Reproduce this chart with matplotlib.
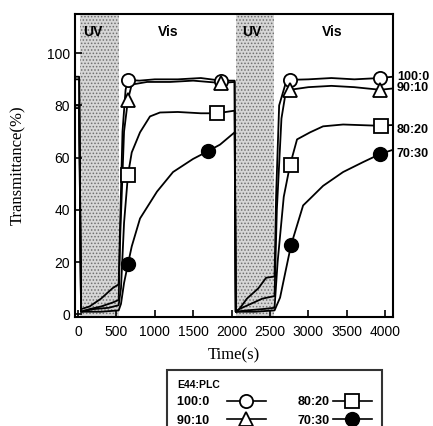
import numpy as np
import matplotlib.pyplot as plt
from matplotlib.lines import Line2D

# transmittance traces (time in s, transmittance in %)
t_100 = [-40, 15, 40, 150, 300, 450, 530, 545, 580, 620, 651, 800, 1000, 1300, 1600, 1863, 2040,
         2055, 2100, 2200, 2350, 2450, 2560, 2580, 2620, 2700, 2762, 3000, 3300, 3600, 3935, 4100]
v_100 = [91, 91, 2, 3, 6, 10, 11.5, 30, 70, 86, 89.8, 89.5, 90, 90, 90.5, 89.5, 89.5,
         1, 2, 6, 10, 14, 14.5, 45, 80, 88, 89.8, 90, 90.5, 90, 90.5, 91]

t_90 = [-40, 15, 40, 150, 300, 450, 530, 550, 600, 651, 700, 900, 1200, 1500, 1863, 2040,
        2055, 2100, 2250, 2400, 2560, 2590, 2650, 2700, 2762, 3000, 3300, 3600, 3935, 4100]
v_90 = [90, 90, 1, 2, 3, 4.5, 5.5, 30, 70, 82.2, 88, 89, 89, 89.5, 88.6, 89,
        1, 2, 4, 6, 7, 40, 75, 84, 86, 87, 87.5, 87, 86, 86.5]

t_80 = [-40, 15, 40, 200, 400, 530, 560, 600, 651, 700, 808, 938, 1068, 1300, 1600, 1811, 2040,
        2055, 2200, 2400, 2560, 2600, 2680, 2762, 2853, 3023, 3192, 3453, 3844, 3948, 4100]
v_80 = [80, 80, 1, 2, 2.5, 3.5, 10, 35, 53.4, 62, 69.7, 75.8, 77.3, 77.5, 77, 77, 78,
        1, 1.5, 2, 2.5, 20, 45, 57.2, 67, 69.7, 72, 72.7, 72.3, 72.3, 72.5]

t_70 = [-40, 15, 40, 300, 530, 560, 600, 651, 700, 808, 1029, 1238, 1498, 1694, 1850, 2040,
        2055, 2300, 2560, 2632, 2700, 2775, 2932, 3023, 3192, 3453, 3713, 3935, 4100]
v_70 = [79, 79, 1, 1, 1.5, 4, 12, 19.3, 26, 36.7, 47, 54.5, 59.5, 62.5, 65, 69.7,
        1, 1, 1.5, 6.4, 16, 26.5, 41.7, 44.3, 49.2, 54.5, 58.3, 61.4, 63]

# marker positions
mk_t_100 = [651, 1863, 2762, 3935]
mk_v_100 = [89.8, 89.5, 89.8, 90.5]
mk_t_90 = [651, 1863, 2762, 3935]
mk_v_90 = [82.2, 88.6, 86, 86]
mk_t_80 = [651, 1811, 2775, 3948]
mk_v_80 = [53.4, 77, 57.2, 72.3]
mk_t_70 = [651, 1694, 2775, 3935]
mk_v_70 = [19.3, 62.5, 26.5, 61.4]

uv_periods = [(26, 534), (2058, 2554)]
phase_labels = [('UV', 195), ('Vis', 1170), ('UV', 2267), ('Vis', 3310)]
ratios = ['100:0', '90:10', '80:20', '70:30']
ratio_label_y = [90.9, 86.7, 70.5, 61.4]

plt.rcParams['hatch.linewidth'] = 0.7
plt.rcParams['hatch.color'] = '#707070'

fig = plt.figure(figsize=(4.33, 4.26), dpi=100)
ax = fig.add_axes([0.173, 0.256, 0.735, 0.711])

for a, b in uv_periods:
        ax.axvspan(a, b, facecolor='#d6d6d6', edgecolor='#707070', hatch='.....', linewidth=0, zorder=0)

lw = 1.3
ax.plot(t_100, v_100, color='black', lw=lw)
ax.plot(t_90, v_90, color='black', lw=lw)
ax.plot(t_80, v_80, color='black', lw=lw)
ax.plot(t_70, v_70, color='black', lw=lw)

ax.plot(mk_t_100, mk_v_100, ls='none', marker='o', ms=9.5, mfc='white', mec='black', mew=1.3, zorder=4)
ax.plot(mk_t_90, mk_v_90, ls='none', marker='^', ms=10, mfc='white', mec='black', mew=1.3, zorder=5)
ax.plot(mk_t_80, mk_v_80, ls='none', marker='s', ms=9.5, mfc='white', mec='black', mew=1.3, zorder=4)
ax.plot(mk_t_70, mk_v_70, ls='none', marker='o', ms=10, mfc='black', mec='black', zorder=4)

for txt, x in phase_labels:
        ax.text(x, 108.3, txt, ha='center', va='center', fontsize=10, fontweight='bold',
                family='Liberation Sans')

for txt, y in zip(ratios, ratio_label_y):
        ax.annotate(txt, xy=(1.012, y), xycoords=('axes fraction', 'data'), va='center', ha='left',
                    fontsize=9, fontweight='bold', family='Liberation Sans', annotation_clip=False)

ax.set_xlim(-40, 4105)
ax.set_ylim(-1, 115)
ax.set_xticks(np.arange(0, 4001, 500))
ax.set_yticks(np.arange(0, 101, 20))
ax.tick_params(direction='in', length=5, width=1.2, labelsize=10)
ax.tick_params(axis='x', pad=6)
for lab in ax.get_xticklabels() + ax.get_yticklabels():
        lab.set_family('Liberation Sans')
for s in ax.spines.values():
        s.set_linewidth(1.5)

ax.set_xlabel('Time(s)', family='Liberation Serif', fontsize=12, labelpad=6)
ax.set_ylabel('Transmittance(%)', family='Liberation Serif', fontsize=12, labelpad=15)

handles = [
        Line2D([], [], color='black', lw=1.2, marker='o', ms=9.5, mfc='white', mec='black', mew=1.3),
        Line2D([], [], color='black', lw=1.2, marker='^', ms=10, mfc='white', mec='black', mew=1.3),
        Line2D([], [], color='black', lw=1.2, marker='s', ms=9.5, mfc='white', mec='black', mew=1.3),
        Line2D([], [], color='black', lw=1.2, marker='o', ms=10, mfc='black', mec='black'),
]
# first column sits a little further from its symbols
leg_labels = [ratios[0] + '    ', ratios[1] + '    ', ratios[2], ratios[3]]
leg = fig.legend(handles, leg_labels, ncol=2, markerfirst=False, title='E44:PLC', alignment='left',
                 loc='upper left', bbox_to_anchor=(167 / 433, 1 - 370 / 426),
                 prop={'family': 'Liberation Sans', 'weight': 'bold', 'size': 9},
                 title_fontproperties={'family': 'Liberation Sans', 'weight': 'bold', 'size': 7.5},
                 frameon=True, fancybox=False, handlelength=3.1, handletextpad=0.3,
                 columnspacing=2.5, labelspacing=0.5, borderpad=0.8, borderaxespad=0)
leg.get_frame().set_edgecolor('black')
leg.get_frame().set_linewidth(1.5)

fig.savefig('out.png', dpi=100)
